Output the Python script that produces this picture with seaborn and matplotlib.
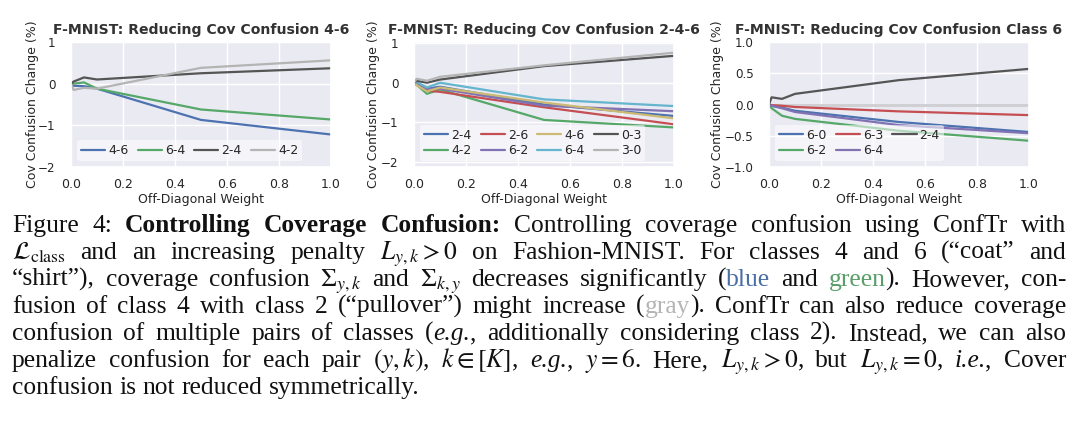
import matplotlib
matplotlib.use("Agg")
import pandas as pd
import seaborn as sns
import matplotlib.pyplot as plt

# off-diagonal weights used in all three runs
weights = [0.0, 0.01, 0.05, 0.1, 0.5, 1.0]

# panel 1: reducing 4-6
p1_pairs = ["4-6", "6-4", "2-4", "4-2"]
p1_values = [
    [0.0, -0.05, -0.06, -0.12, -0.87, -1.22],
    [0.0, 0.0, 0.03, -0.12, -0.62, -0.86],
    [0.0, 0.05, 0.15, 0.10, 0.25, 0.37],
    [0.0, -0.15, -0.10, -0.12, 0.38, 0.56],
]

# panel 2: reducing 2-4-6
p2_pairs = ["2-4", "4-2", "2-6", "6-2", "4-6", "6-4", "0-3", "3-0"]
p2_values = [
    [0.0, -0.03, -0.15, -0.10, -0.55, -0.84],
    [0.0, -0.05, -0.28, -0.17, -0.94, -1.13],
    [0.0, -0.05, -0.20, -0.23, -0.62, -1.05],
    [0.0, -0.04, -0.15, -0.15, -0.58, -0.72],
    [0.0, -0.06, -0.22, -0.12, -0.50, -0.90],
    [0.0, 0.02, -0.12, 0.00, -0.42, -0.59],
    [0.0, 0.05, 0.00, 0.08, 0.42, 0.68],
    [0.0, 0.10, 0.05, 0.15, 0.44, 0.76],
]

# panel 3: reducing class 6
p3_pairs = ["6-0", "6-2", "6-3", "6-4", "2-4"]
p3_values = [
    [0.0, -0.02, -0.05, -0.10, -0.28, -0.44],
    [0.0, -0.06, -0.18, -0.23, -0.42, -0.58],
    [0.0, -0.01, -0.02, -0.04, -0.11, -0.17],
    [0.0, -0.02, -0.06, -0.12, -0.33, -0.46],
    [0.0, 0.115, 0.09, 0.17, 0.39, 0.57],
]

deep = sns.color_palette("deep6")
dark_gray = "#555555"
light_gray = "#b4b4b4"

W, H = 1080, 423
sns.set_theme(style="darkgrid")
plt.rcParams["font.family"] = ["DejaVu Sans"]
plt.rcParams["mathtext.fontset"] = "stix"

fig = plt.figure(figsize=(W / 100, H / 100), dpi=100)


def long_df(pairs, values):
    rows = []
    for pair, vals in zip(pairs, values):
        for x, v in zip(weights, vals):
            rows.append({"weight": x, "change": v, "pair": pair})
    return pd.DataFrame(rows)


panels = [
    ("F-MNIST: Reducing Cov Confusion 4-6", p1_pairs, p1_values,
     [deep[0], deep[1], dark_gray, light_gray], 71, 39, (-2, 1), [-2, -1, 0, 1], 4),
    ("F-MNIST: Reducing Cov Confusion 2-4-6", p2_pairs, p2_values,
     list(deep) + [dark_gray, light_gray], 414, 380, (-2.13, 1.03), [-2, -1, 0, 1], 4),
    ("F-MNIST: Reducing Cov Confusion Class 6", p3_pairs, p3_values,
     [deep[0], deep[1], deep[2], deep[3], dark_gray], 769, 724, (-1, 1),
     [-1.0, -0.5, 0.0, 0.5, 1.0], 3),
]

FS = 9.0
for i, (title, pairs, values, colors, left, lab_x, ylim, yticks, ncol) in enumerate(panels):
    ax = fig.add_axes([left / W, 1 - 167 / H, 260 / W, 125 / H])
    if i == 2:
        ax.axhline(0, color="#cfcfd4", lw=2.2, zorder=1)
    df = long_df(pairs, values)
    sns.lineplot(data=df, x="weight", y="change", hue="pair", hue_order=pairs,
                 palette=colors, linewidth=1.6, ax=ax)
    ax.set_xlim(0, 1)
    ax.set_ylim(*ylim)
    ax.set_yticks(yticks)
    if i == 2:
        ax.set_yticklabels([f"{t:.1f}".replace("-", "\u2212") for t in yticks])
    ax.set_xticks([0, 0.2, 0.4, 0.6, 0.8, 1.0])
    ax.tick_params(axis="y", labelsize=8.6, pad=5)
    ax.tick_params(axis="x", labelsize=FS, pad=2)
    ax.set_title(title, fontsize=10.1, fontweight="bold", pad=6, color="#333333")
    ax.set_xlabel("Off-Diagonal Weight", fontsize=FS, labelpad=1)
    ax.set_ylabel("Cov Confusion Change (%)", fontsize=FS)
    ax.yaxis.set_label_coords((lab_x - left) / 260, 0.5)
    ax.legend(ncol=ncol, loc="lower left", fontsize=FS, handlelength=1.95,
              handletextpad=0.25, columnspacing=0.7, borderpad=0.3,
              labelspacing=0.2, facecolor="white", framealpha=0.55,
              edgecolor="none")

# caption, justified line by line
B = {"weight": "bold"}
It = {"style": "italic"}
BLUE = {"color": "#4a6fa5"}
GREEN = {"color": "#5a9e6a"}
GRAY = {"color": "#b5b5b5"}

caption = [
    ["Figure", "4:", ("Controlling", B), ("Coverage", B), ("Confusion:", B),
     "Controlling", "coverage", "confusion", "using", "ConfTr", "with"],
    [r"$\mathcal{L}_{\mathrm{class}}$", "and", "an", "increasing", "penalty",
     r"$L_{y,k} > 0$", "on", "Fashion-MNIST.", "For", "classes", "4", "and", "6",
     "(\u201ccoat\u201d", "and"],
    ["\u201cshirt\u201d),", "coverage", "confusion", r"$\Sigma_{y,k}$", "and",
     r"$\Sigma_{k,y}$", "decreases", "significantly", [("(", {}), ("blue", BLUE)],
     "and", [("green", GREEN), (").", {})], "However,", "con-"],
    ["fusion", "of", "class", "4", "with", "class", "2", "(\u201cpullover\u201d)",
     "might", "increase", [("(", {}), ("gray", GRAY), (").", {})], "ConfTr", "can",
     "also", "reduce", "coverage"],
    ["confusion", "of", "multiple", "pairs", "of", "classes",
     [("(", {}), ("e.g.", It), (",", {})], "additionally", "considering", "class",
     "2).", "Instead,", "we", "can", "also"],
    ["penalize", "confusion", "for", "each", "pair", r"$(y,k)$,", r"$k\in[K]$,",
     [("e.g.", It), (",", {})], r"$y = 6$.", "Here,", r"$L_{y,k} > 0$,", "but",
     r"$L_{y,k} = 0$,", [("i.e.", It), (",", {})], "Cover"],
    ["confusion", "is", "not", "reduced", "symmetrically."],
]
baselines = [232, 259, 286, 313, 340, 367, 394]
X0, X1 = 12, 1066
CAP_FS = 18.4

renderer = fig.canvas.get_renderer()
for li, (line, base) in enumerate(zip(caption, baselines)):
    y = 1 - base / H
    words = []
    for word in line:
        if isinstance(word, str):
            pieces = [(word, {})]
        elif isinstance(word, tuple):
            pieces = [word]
        else:
            pieces = word
        arts = [fig.text(0, y, txt, fontsize=CAP_FS, family="Liberation Serif",
                         va="baseline", ha="left", color=kw.get("color", "#111111"),
                         **{k: v for k, v in kw.items() if k != "color"})
                for txt, kw in pieces]
        words.append(arts)
    widths = [[a.get_window_extent(renderer).width for a in arts] for arts in words]
    total = sum(sum(ws) for ws in widths)
    if li < len(caption) - 1:
        gap = (X1 - X0 - total) / (len(words) - 1)
    else:
        gap = CAP_FS * 0.25 * 100 / 72
    x = X0
    for arts, ws in zip(words, widths):
        for a, wd in zip(arts, ws):
            a.set_x(x / W)
            x += wd
        x += gap

fig.savefig("out.png", dpi=100)
